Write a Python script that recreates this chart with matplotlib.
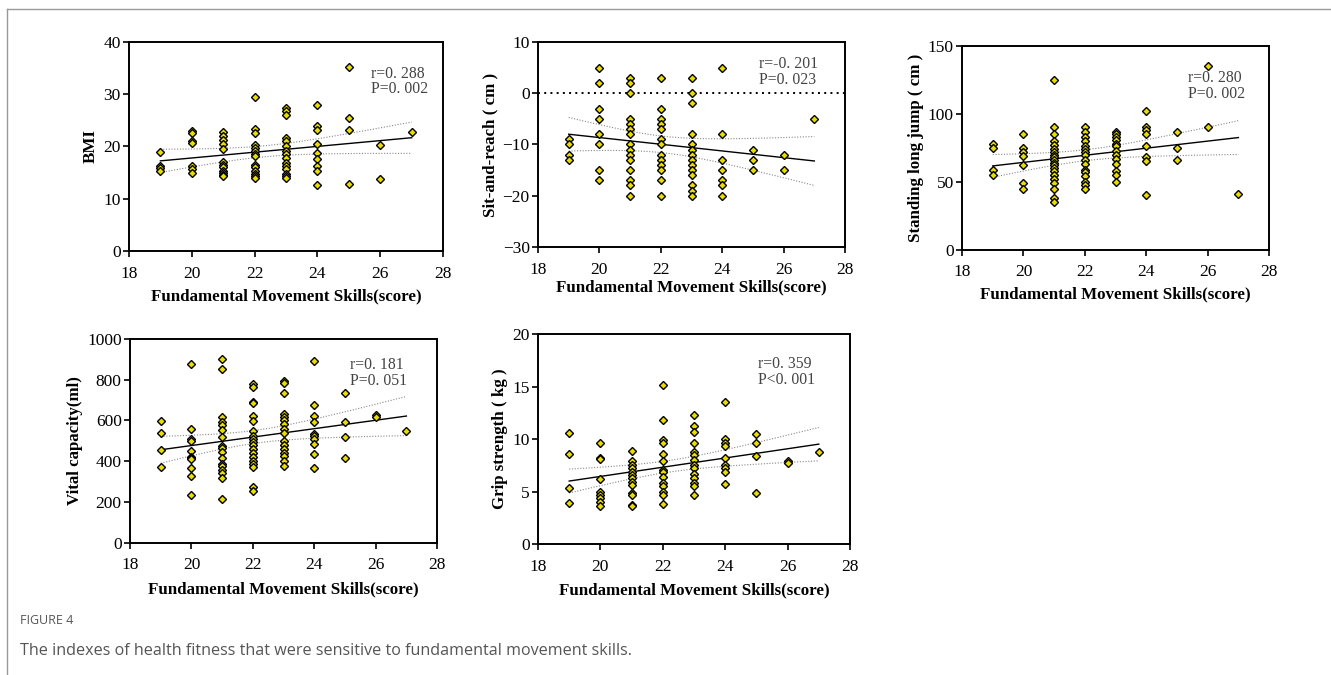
import numpy as np
import matplotlib
matplotlib.use("Agg")
from matplotlib import pyplot as plt
from matplotlib.lines import Line2D

# FMS score categories (x)
fms = [19, 20, 21, 22, 23, 24, 25, 26, 27]

# values, one list per FMS score
bmi = [
    [19.0, 16.2, 15.8, 15.4],
    [22.9, 22.6, 21.0, 20.6, 16.2, 15.6, 15.0],
    [22.7, 22.0, 21.2, 20.5, 19.5, 17.1, 16.5, 16.0, 15.4, 15.0, 14.6, 14.3],
    [29.4, 23.3, 22.6, 20.3, 19.8, 19.2, 18.6, 18.1, 16.5, 16.0, 15.4, 14.8, 14.3, 13.9],
    [27.3, 26.7, 26.0, 21.7, 21.0, 20.0, 19.2, 18.6, 17.8, 16.8, 16.2, 15.6, 14.8, 14.3, 14.0],
    [28.0, 24.0, 23.2, 20.5, 18.7, 17.6, 16.2, 15.4, 12.7],
    [35.1, 25.4, 23.2, 12.8],
    [20.2, 13.7],
    [22.8],
]
sit_reach = [
    [-9, -10, -12, -13],
    [5, 2, -3, -5, -8, -10, -15, -17],
    [3, 2, 0, -5, -6, -7, -8, -10, -11, -12, -13, -15, -17, -18, -20],
    [3, -3, -5, -6, -7, -9, -10, -12, -13, -14, -15, -17, -20],
    [3, 0, -2, -8, -10, -11, -12, -13, -14, -15, -16, -18, -19, -20],
    [5, -8, -13, -15, -17, -18, -20],
    [-11, -13, -15],
    [-12, -15],
    [-5],
]
long_jump = [
    [78, 75, 59, 55],
    [85, 75, 72, 69, 62, 49, 45],
    [125, 90, 85, 80, 77, 74, 72, 70, 68, 66, 64, 62, 60, 58, 55, 52, 49, 45, 38, 35],
    [90, 87, 83, 80, 76, 74, 72, 70, 66, 63, 59, 57, 54, 50, 48, 45],
    [87, 85, 83, 81, 78, 76, 73, 70, 67, 63, 58, 55, 50],
    [102, 90, 88, 85, 76, 68, 65, 40],
    [87, 75, 66],
    [135, 90],
    [41],
]
vital = [
    [597, 538, 457, 370],
    [875, 560, 510, 500, 450, 420, 415, 410, 365, 325, 235],
    [900, 850, 615, 590, 575, 555, 520, 475, 465, 445, 415, 385, 375, 355, 340, 315, 215],
    [780, 765, 690, 685, 620, 595, 550, 525, 510, 495, 480, 460, 440, 420, 400, 385, 370, 275, 255],
    [795, 785, 735, 630, 615, 600, 580, 560, 540, 500, 480, 460, 440, 425, 400, 375],
    [890, 675, 620, 590, 535, 525, 510, 485, 435, 365],
    [735, 590, 520, 415],
    [625, 615],
    [550],
]
grip = [
    [10.6, 8.6, 5.3, 3.9],
    [9.6, 8.2, 8.1, 6.2, 5.0, 4.7, 4.4, 4.0, 3.6],
    [8.9, 7.9, 7.5, 7.2, 6.9, 6.6, 6.3, 5.9, 5.6, 4.9, 4.7, 3.7, 3.6],
    [15.2, 11.8, 9.9, 9.6, 8.6, 7.9, 7.1, 6.9, 6.4, 5.8, 5.5, 5.0, 4.7, 3.8],
    [12.3, 11.2, 10.7, 9.6, 8.8, 8.5, 8.0, 7.5, 7.2, 6.7, 6.3, 5.8, 5.5, 4.7],
    [13.5, 10.0, 9.6, 9.3, 8.2, 7.5, 7.2, 6.9, 5.7],
    [10.5, 9.6, 8.4, 4.9],
    [7.9, 7.7],
    [8.8],
]

ylabels = ["BMI", "Sit-and-reach ( cm )", "Standing long jump ( cm )",
           "Vital capacity(ml)", "Grip strength ( kg )"]
stats = ["r=0. 288\nP=0. 002", "r=-0. 201\nP=0. 023", "r=0. 280\nP=0. 002",
         "r=0. 181\nP=0. 051", "r=0. 359\nP<0. 001"]
ylims = [(0, 40), (-30, 10), (0, 150), (0, 1000), (0, 20)]
yticks = [[0, 10, 20, 30, 40], [-30, -20, -10, 0, 10], [0, 50, 100, 150],
          [0, 200, 400, 600, 800, 1000], [0, 5, 10, 15, 20]]
xlabel = "Fundamental Movement Skills(score)"

# axes boxes in figure fraction
boxes = [
    [0.0969, 0.628, 0.236, 0.310],
    [0.4042, 0.634, 0.2307, 0.304],
    [0.7228, 0.630, 0.2307, 0.302],
    [0.0977, 0.196, 0.2307, 0.302],
    [0.4042, 0.194, 0.2344, 0.311],
]
xlabelpads = [4.6, 1.0, 4.6, 5.6, 5.5]
text_pos = [(0.77, 0.885), (0.72, 0.93), (0.735, 0.88), (0.715, 0.91), (0.705, 0.895)]
serif = ["Liberation Serif", "DejaVu Serif"]


def flatten(groups):
    xs, ys = [], []
    for x, vals in zip(fms, groups):
        xs += [x] * len(vals)
        ys += list(vals)
    return np.array(xs, float), np.array(ys, float)


def draw_panel(ax, groups, ylab, stat, ylim, yt, xpad, tpos, zero_line=False):
    xs, ys = flatten(groups)
    n = len(xs)
    b, a = np.polyfit(xs, ys, 1)
    xx = np.linspace(19, 27, 60)
    yy = a + b * xx
    resid = ys - (a + b * xs)
    s = np.sqrt(np.sum(resid ** 2) / (n - 2))
    se = s * np.sqrt(1.0 / n + (xx - xs.mean()) ** 2 / np.sum((xs - xs.mean()) ** 2))
    t = 1.99
    if zero_line:
        ax.axhline(0, color="black", lw=1.4, ls=(0, (1, 2.2)), zorder=1)
    ax.plot(xx, yy + t * se, color="#888888", lw=0.8, ls=(0, (1, 1.5)), zorder=2)
    ax.plot(xx, yy - t * se, color="#888888", lw=0.8, ls=(0, (1, 1.5)), zorder=2)
    ax.plot(xx, yy, color="black", lw=1.0, zorder=2)
    ax.plot(xs, ys, ls="none", marker="D", ms=4.3, mfc="#e8dc00", mec="black",
            mew=1.0, zorder=3)
    ax.set_xlim(18, 28)
    ax.set_ylim(*ylim)
    ax.set_xticks([18, 20, 22, 24, 26, 28])
    ax.set_yticks(yt)
    for sp in ax.spines.values():
        sp.set_linewidth(1.4)
    ax.tick_params(direction="out", length=4, width=1.2, labelsize=12.5,
                   top=False, right=False)
    ax.tick_params(axis="x", pad=6.5)
    ax.tick_params(axis="y", pad=2)
    for lab in ax.get_xticklabels() + ax.get_yticklabels():
        lab.set_family(serif)
    ax.set_xlabel(xlabel, family=serif, fontweight="bold", fontsize=12.2, labelpad=xpad)
    ax.set_ylabel(ylab, family=serif, fontweight="bold", fontsize=12.2, labelpad=3)
    ax.text(tpos[0], tpos[1], stat, transform=ax.transAxes, family=serif, fontsize=11.3,
            color="#444444", va="top", ha="left", linespacing=0.95)


fig = plt.figure(figsize=(13.31, 6.75), dpi=100, facecolor="w")
data = [bmi, sit_reach, long_jump, vital, grip]
for i in range(5):
    ax = fig.add_axes(boxes[i])
    draw_panel(ax, data[i], ylabels[i], stats[i], ylims[i], yticks[i],
               xlabelpads[i], text_pos[i], zero_line=(i == 1))

# frame lines of the page
fig.add_artist(Line2D([7 / 1331, 1], [1 - 9 / 675, 1 - 9 / 675], color="#999999", lw=1.0))
fig.add_artist(Line2D([7 / 1331, 7 / 1331], [0, 1 - 9 / 675], color="#999999", lw=1.0))

fig.text(20 / 1331, 1 - 620 / 675, "FIGURE 4", family=["Open Sans", "DejaVu Sans"],
         fontsize=9, color="#555555", va="center", ha="left")
fig.text(20 / 1331, 1 - 651 / 675,
         "The indexes of health fitness that were sensitive to fundamental movement skills.",
         family=["Open Sans", "DejaVu Sans"], fontsize=11.6, color="#555555",
         va="center", ha="left")

fig.savefig("out.png", dpi=100)
